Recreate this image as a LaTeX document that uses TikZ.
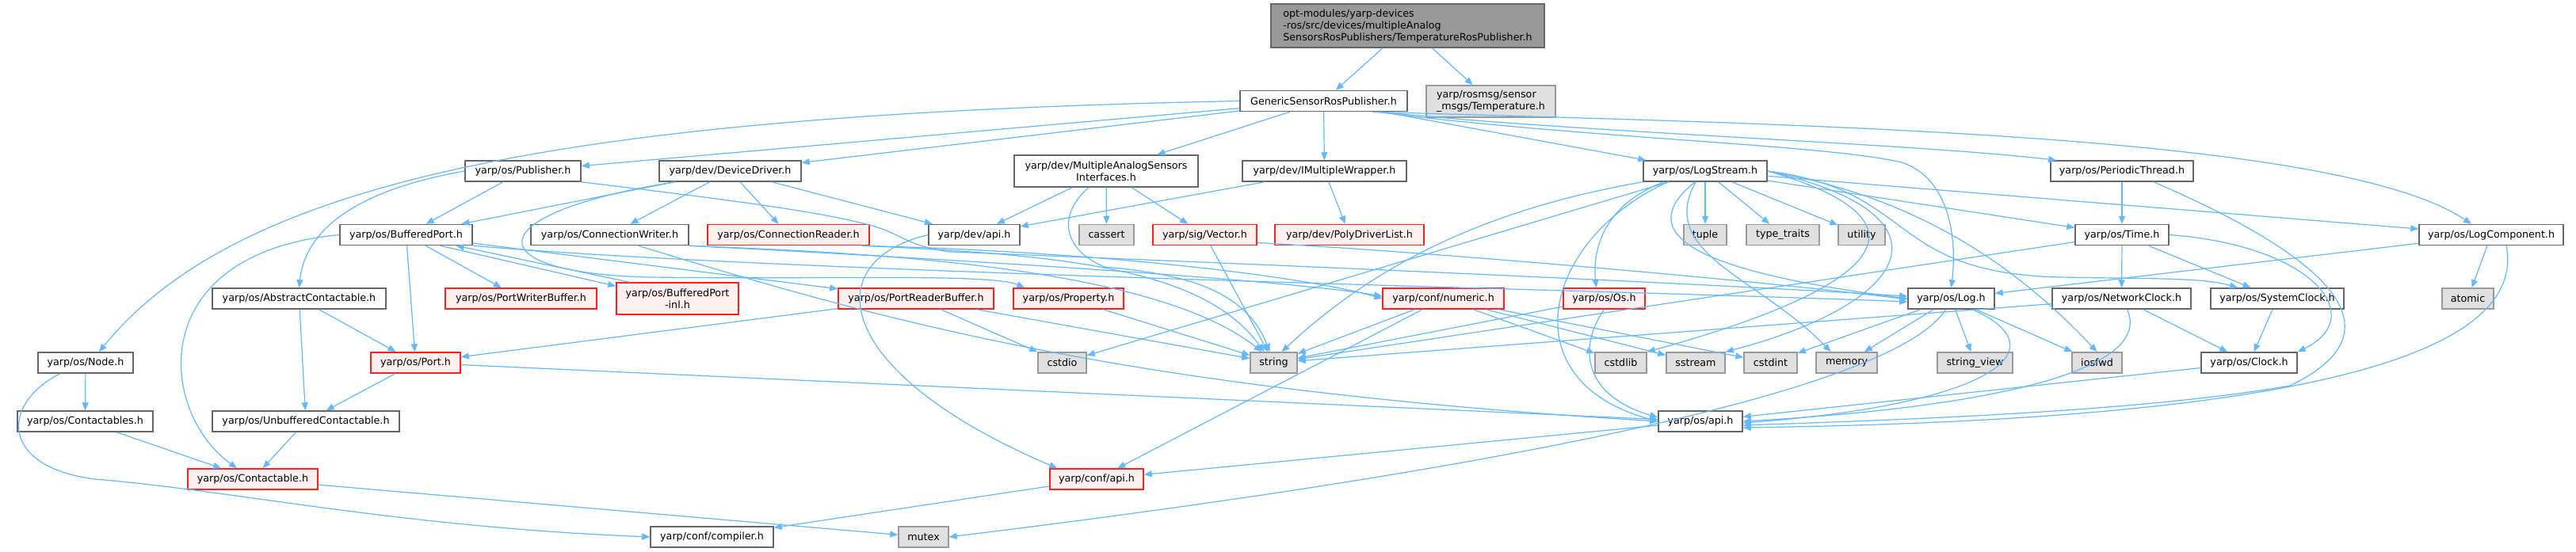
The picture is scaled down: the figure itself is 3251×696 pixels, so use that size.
\documentclass[tikz,border=0pt]{standalone}
\usepackage{fontspec}
\setmainfont{DejaVu Sans}
\usetikzlibrary{arrows.meta}
\definecolor{eblue}{HTML}{63B8FF}
\definecolor{gforty}{HTML}{666666}
\definecolor{gsixty}{HTML}{999999}
\definecolor{glight}{HTML}{E0E0E0}
\definecolor{rfill}{HTML}{FFF0F0}
\definecolor{rline}{HTML}{FF2020}
\tikzset{
  box/.style={draw=gforty, line width=1.5pt, fill=white, inner sep=0pt, minimum height=26pt,
    font=\fontsize{12.7pt}{15pt}\selectfont, text=black},
  sysbox/.style={box, draw=gsixty, fill=glight},
  redbox/.style={box, draw=rline, fill=rfill},
  topbox/.style={box, draw=gforty, fill=gsixty},
  edge/.style={draw=eblue, line width=1.2pt, -{Triangle[length=10pt,width=8pt]}},
}
\begin{document}
\begin{tikzpicture}[x=1pt,y=1pt]
\path[use as bounding box, fill=white] (0,0) rectangle (3251,-696);

% ---- nodes
\node[topbox, minimum width=345pt, minimum height=55pt, align=left] (T) at (1776.5,-32.5)
  {opt-modules/yarp-devices\\-ros/src/devices/multipleAnalog\\SensorsRosPublishers/TemperatureRosPublisher.h};
\node[sysbox, minimum width=163pt, minimum height=40pt, align=left] (RM) at (1881.5,-128) {yarp/rosmsg/sensor\\\_msgs/Temperature.h};
\node[box, minimum width=211pt] (G) at (1670.5,-127.5) {GenericSensorRosPublisher.h};

\node[box, minimum width=146pt] (PUB) at (660,-216) {yarp/os/Publisher.h};
\node[box, minimum width=179pt] (DD) at (921.5,-216) {yarp/dev/DeviceDriver.h};
\node[box, minimum width=232pt, minimum height=40pt, align=center] (MAS) at (1396,-216) {yarp/dev/MultipleAnalogSensors\\Interfaces.h};
\node[box, minimum width=207pt] (IMW) at (1671.5,-216) {yarp/dev/IMultipleWrapper.h};
\node[box, minimum width=156pt] (LS) at (2152,-216) {yarp/os/LogStream.h};
\node[box, minimum width=180pt] (PT) at (2678,-216) {yarp/os/PeriodicThread.h};

\node[box, minimum width=167pt] (BP) at (512.5,-296.5) {yarp/os/BufferedPort.h};
\node[box, minimum width=199pt] (CW) at (769.5,-296.5) {yarp/os/ConnectionWriter.h};
\node[redbox, minimum width=204pt] (CR) at (995,-296.5) {yarp/os/ConnectionReader.h};
\node[box, minimum width=115pt] (DAPI) at (1229.5,-296.5) {yarp/dev/api.h};
\node[sysbox, minimum width=69pt] (CA) at (1396.5,-296.5) {cassert};
\node[redbox, minimum width=131pt] (VEC) at (1520.5,-296.5) {yarp/sig/Vector.h};
\node[redbox, minimum width=188pt] (PDL) at (1703,-296.5) {yarp/dev/PolyDriverList.h};
\node[sysbox, minimum width=54pt] (TUP) at (2152,-296.5) {tuple};
\node[sysbox, minimum width=92pt] (TT) at (2250,-296.5) {type\_traits};
\node[sysbox, minimum width=59pt] (UTIL) at (2349.5,-296.5) {utility};
\node[box, minimum width=118pt] (TIME) at (2678,-296.5) {yarp/os/Time.h};
\node[box, minimum width=182pt] (LC) at (3144,-296.5) {yarp/os/LogComponent.h};

\node[box, minimum width=219pt] (AC) at (377.5,-377) {yarp/os/AbstractContactable.h};
\node[redbox, minimum width=191pt] (PWB) at (657.5,-377) {yarp/os/PortWriterBuffer.h};
\node[redbox, minimum width=154pt, minimum height=40pt, align=center] (BPI) at (855,-377) {yarp/os/BufferedPort\\-inl.h};
\node[redbox, minimum width=196pt] (PRB) at (1156,-377) {yarp/os/PortReaderBuffer.h};
\node[redbox, minimum width=139pt] (PROP) at (1348.5,-377) {yarp/os/Property.h};
\node[redbox, minimum width=153pt] (NUM) at (1821.5,-377) {yarp/conf/numeric.h};
\node[redbox, minimum width=103pt] (OS) at (2024.5,-377) {yarp/os/Os.h};
\node[box, minimum width=109pt] (LOG) at (2462.5,-377) {yarp/os/Log.h};
\node[box, minimum width=175pt] (NC) at (2677.5,-377) {yarp/os/NetworkClock.h};
\node[box, minimum width=168pt] (SC) at (2874,-377) {yarp/os/SystemClock.h};
\node[sysbox, minimum width=65pt] (ATOM) at (3114.5,-377) {atomic};

\node[box, minimum width=120pt] (NODE) at (108,-458) {yarp/os/Node.h};
\node[redbox, minimum width=113pt] (PORT) at (524.5,-458) {yarp/os/Port.h};
\node[sysbox, minimum width=61pt] (CSTDIO) at (1340.5,-458) {cstdio};
\node[sysbox, minimum width=59pt] (STR) at (1607.5,-458) {string};
\node[sysbox, minimum width=65pt] (CSTDLIB) at (2045.5,-458) {cstdlib};
\node[sysbox, minimum width=74pt] (SSTR) at (2140,-458) {sstream};
\node[sysbox, minimum width=67pt] (CSTDINT) at (2234.5,-458) {cstdint};
\node[sysbox, minimum width=77pt] (MEM) at (2330.5,-458) {memory};
\node[sysbox, minimum width=95pt] (SV) at (2492.5,-458) {string\_view};
\node[sysbox, minimum width=63pt] (IOS) at (2646.5,-458) {iosfwd};
\node[box, minimum width=121pt] (CLK) at (2838.5,-458) {yarp/os/Clock.h};

\node[box, minimum width=171pt] (CTS) at (107.5,-532) {yarp/os/Contactables.h};
\node[box, minimum width=236pt] (UC) at (386,-532) {yarp/os/UnbufferedContactable.h};
\node[box, minimum width=106pt] (OAPI) at (2146,-532) {yarp/os/api.h};

\node[redbox, minimum width=164pt] (CT) at (319,-605) {yarp/os/Contactable.h};
\node[redbox, minimum width=118pt] (CAPI) at (1384,-605) {yarp/conf/api.h};

\node[box, minimum width=155pt] (COMP) at (898.5,-678) {yarp/conf/compiler.h};
\node[sysbox, minimum width=63pt] (MUTEX) at (1165.5,-678) {mutex};

% ---- edges
\draw[edge] (T) -- (G);
\draw[edge] (T) -- (RM);

\draw[edge] (G) -- (PUB);
\draw[edge] (G) -- (DD);
\draw[edge] (G) -- (MAS);
\draw[edge] (G) -- (IMW);
\draw[edge] (G) -- (LS);
\draw[edge] ([xshift=-35pt]G.south east) .. controls (2000,-168) and (2400,-180) .. ([xshift=8pt]PT.north west);
\draw[edge] ([xshift=-45pt]G.south east) .. controls (2300,-158) and (2950,-170) .. ([xshift=-25pt]LC.north);
\draw[edge] (G.west) .. controls (700,-145) and (300,-230) .. ([xshift=17pt]NODE.north);
\draw[edge] ([xshift=-40pt]G.south east) .. controls (2000,-175) and (2300,-182) .. (2400,-205)
   .. controls (2460,-225) and (2470,-300) .. (LOG.north);

\draw[edge] (PUB) -- (BP);
\draw[edge] (PUB.west) .. controls (450,-240) and (385,-290) .. (AC.north);
\draw[edge] (PUB.south east) .. controls (900,-250) and (1050,-268) .. (1110,-288)
   .. controls (1140,-298) and (1150,-312) .. (1200,-318)
   .. controls (1500,-330) and (2100,-355) .. ([yshift=3pt]LOG.west);

\draw[edge] ([xshift=-41pt]BP.south east) -- ([yshift=-5pt]BPI.north west);
\draw[edge] ([xshift=17pt]BPI.north west) -- ([xshift=-21pt]BP.south east);
\draw[edge] (BP) -- (PWB);
\draw[edge] (BP) -- (PORT);
\draw[edge] (BP) -- (PRB);
\draw[edge] (BP.west) .. controls (180,-320) and (200,-520) .. ([xshift=-20pt]CT.north);
\draw[edge] (BP.south east) .. controls (1000,-345) and (2000,-365) .. ([yshift=-4pt]LOG.west);

\draw[edge] (DD) -- (BP);
\draw[edge] (DD) -- (CW);
\draw[edge] (DD) -- (CR);
\draw[edge] (DD) -- (DAPI);
\draw[edge] ([xshift=20pt]DD.south west) .. controls (600,-270) and (600,-345) .. (820,-350)
   .. controls (1050,-353) and (1250,-345) .. ([xshift=15pt]PROP.north west);

\draw[edge] ([xshift=36pt]CW.south) .. controls (1100,-400) and (1400,-490) .. (OAPI.west);
\draw[edge] (CW.south east) .. controls (1100,-322) and (1600,-350) .. ([yshift=3pt]NUM.west);
\draw[edge] (CW.south east) .. controls (1050,-318) and (1450,-330) .. ([xshift=-15pt]STR.north);
\draw[edge] ([xshift=-10pt]CR.south east) .. controls (1400,-318) and (1650,-350) .. (NUM.west);
\draw[edge] ([xshift=-10pt]CR.south east) .. controls (1350,-322) and (1520,-340) .. ([xshift=-12pt]STR.north);

\draw[edge] (MAS) -- (DAPI);
\draw[edge] (MAS) -- (CA);
\draw[edge] (MAS) -- (VEC);
\draw[edge] ([xshift=-22pt]MAS.south) .. controls (1335,-270) and (1340,-315) .. (1394,-337)
   .. controls (1480,-345) and (1570,-360) .. ([xshift=-5pt]STR.north);
\draw[edge] (IMW) -- (DAPI);
\draw[edge] (IMW) -- (PDL);

\draw[edge] (VEC) -- (STR);
\draw[edge] ([yshift=-10pt]VEC.east) .. controls (1800,-318) and (2200,-352) .. ([yshift=-1pt]LOG.west);
\draw[edge] (DAPI.west) .. controls (1030,-330) and (1050,-470) .. ([xshift=10pt]CAPI.north west);

\draw[edge] (PRB) -- (PORT);
\draw[edge] (PRB) -- (CSTDIO);
\draw[edge] (PRB) -- (STR);
\draw[edge] (PROP) -- (STR);

\draw[edge] (AC) -- (UC);
\draw[edge] (AC) -- (PORT);
\draw[edge] (PORT) -- (UC);
\draw[edge] (PORT) -- (OAPI);
\draw[edge] (NODE) -- (CTS);
\draw[edge] ([xshift=-32pt]NODE.south) .. controls (0,-510) and (0,-590) .. (120,-605)
   .. controls (300,-620) and (500,-665) .. (COMP.west);
\draw[edge] (CTS) -- (CT);
\draw[edge] (UC) -- (CT);
\draw[edge] (CT) -- (MUTEX);
\draw[edge] (CAPI) -- (COMP);

\draw[edge] (NUM) -- (STR);
\draw[edge] (NUM) -- (CAPI);
\draw[edge] (NUM) -- (CSTDLIB);
\draw[edge] (NUM) -- (SSTR);
\draw[edge] (NUM) -- (CSTDINT);
\draw[edge] (OS) -- (STR);
\draw[edge] (OS.south) .. controls (1990,-440) and (2000,-500) .. ([yshift=5pt]OAPI.west);
\draw[edge] (OAPI) -- (CAPI);

\draw[edge] (LS) -- (TUP);
\draw[edge] (LS) -- (TT);
\draw[edge] (LS) -- (UTIL);
\draw[edge] (LS) -- (CSTDIO);
\draw[edge] (LS) -- (TIME);
\draw[edge] (LS) -- (LC);
\draw[edge] (LS.south west) .. controls (1900,-260) and (1750,-320) .. ([xshift=10pt]STR.north);
\draw[edge] ([xshift=-52pt]LS.south) .. controls (2020,-260) and (2010,-320) .. ([xshift=-10pt]OS.north);
\draw[edge] ([xshift=-47pt]LS.south) .. controls (1950,-300) and (1900,-480) .. (OAPI.west);
\draw[edge] (LS.east) .. controls (2420,-270) and (2420,-350) .. (CSTDLIB.north east);
\draw[edge] (LS.east) .. controls (2470,-270) and (2420,-380) .. (SSTR.north east);
\draw[edge] (LS.east) .. controls (2400,-245) and (2530,-320) .. (IOS.north);
\draw[edge] (LS.east) .. controls (2420,-240) and (2380,-345) .. (2600,-350)
   .. controls (2700,-352) and (2780,-350) .. ([xshift=-50pt]SC.north);
\draw[edge] ([xshift=-13pt]LS.south) .. controls (2040,-310) and (2200,-350) .. (LOG.west);
\draw[edge] ([xshift=-12pt]LS.south) .. controls (2090,-320) and (2220,-350) .. ([xshift=-20pt]MEM.north);

\draw[edge] (LOG) -- (CSTDINT);
\draw[edge] (LOG) -- (MEM);
\draw[edge] (LOG) -- (SV);
\draw[edge] (LOG) -- (IOS);
\draw[edge] ([xshift=27pt]LOG.south) .. controls (2600,-440) and (2520,-510) .. ([yshift=-2pt]OAPI.east);
\draw[edge] ([xshift=-7pt]LOG.south) .. controls (2400,-480) and (2000,-580) .. (MUTEX.east);

\draw[edge] (PT) -- (TIME);
\draw[edge] ([xshift=40pt]PT.south) .. controls (2950,-330) and (3030,-420) .. (2890,-487)
   .. controls (2700,-520) and (2400,-530) .. ([yshift=-5pt]OAPI.east);
\draw[edge] (TIME) -- (NC);
\draw[edge] (TIME) -- (SC);
\draw[edge] (TIME) -- (STR);
\draw[edge] (TIME.east) .. controls (2920,-310) and (2990,-400) .. (CLK.north east);
\draw[edge] (NC) -- (STR);
\draw[edge] (NC) -- (CLK);
\draw[edge] ([xshift=7pt]NC.south) .. controls (2720,-470) and (2500,-515) .. (OAPI.east);
\draw[edge] (SC) -- (CLK);
\draw[edge] (CLK) -- (OAPI);

\draw[edge] (LC) -- (LOG);
\draw[edge] (LC) -- (ATOM);
\draw[edge] ([xshift=19pt]LC.south) .. controls (3190,-450) and (2900,-530) .. ([yshift=-8pt]OAPI.east);
\end{tikzpicture}
\end{document}
